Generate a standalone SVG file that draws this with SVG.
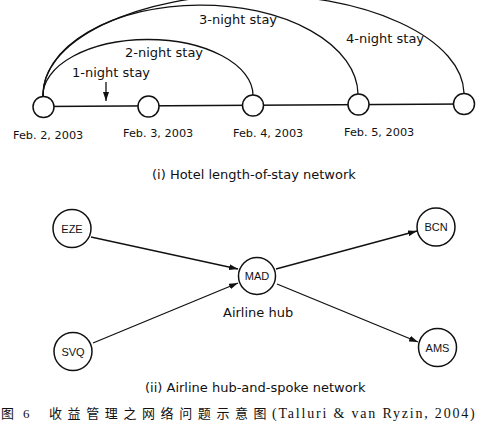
<svg xmlns="http://www.w3.org/2000/svg" width="480" height="422" viewBox="0 0 480 422">
<defs>
<style>
.node{fill:#fff;stroke:#111;stroke-width:1.5}
.edge{fill:none;stroke:#111;stroke-width:1.3}
.lbl{font-family:"DejaVu Sans",Verdana,sans-serif;fill:#111}
.code{font-family:"Liberation Sans",Arial,sans-serif;font-size:11px;fill:#111;text-anchor:middle}
.cap{font-family:"Liberation Serif","Noto Sans CJK SC",serif;fill:#111}
</style>
<marker id="ah" markerWidth="9" markerHeight="6" refX="9" refY="3" orient="auto" markerUnits="userSpaceOnUse">
<path d="M0,0 L9,3 L0,6 z" fill="#111"/>
</marker>
</defs>
<rect width="480" height="422" fill="#fff"/>

<g id="connectors">
<line class="edge" x1="43" y1="106.5" x2="464" y2="104"/>
<path class="edge" d="M43,96 A105,56 0 0 1 253,95"/>
<path class="edge" d="M43,96 A157.5,90 0 0 1 358,94"/>
<path class="edge" d="M43,96 A210.5,100 0 0 1 464,93"/>
<line class="edge" x1="106" y1="82" x2="106" y2="101" marker-end="url(#ah)"/>
<line class="edge" x1="91" y1="237" x2="238" y2="269" marker-end="url(#ah)"/>
<line class="edge" x1="93" y1="343" x2="238" y2="283" marker-end="url(#ah)"/>
<line class="edge" x1="276" y1="269" x2="417" y2="231" marker-end="url(#ah)"/>
<line class="edge" x1="277" y1="284" x2="418" y2="342" marker-end="url(#ah)"/>
</g>

<g id="arc-labels" class="lbl" font-size="13">
<text x="72" y="77">1-night stay</text>
<text x="125" y="57">2-night stay</text>
<text x="199" y="24">3-night stay</text>
<text x="346" y="43">4-night stay</text>
</g>

<g id="feb2"><circle class="node" cx="43.5" cy="107" r="10.5"/><text class="lbl" font-size="11.3" x="13" y="139">Feb. 2, 2003</text></g>
<g id="feb3"><circle class="node" cx="148.5" cy="106.5" r="10.5"/><text class="lbl" font-size="11.3" x="123" y="137">Feb. 3, 2003</text></g>
<g id="feb4"><circle class="node" cx="253" cy="105.5" r="10.5"/><text class="lbl" font-size="11.3" x="233" y="137">Feb. 4, 2003</text></g>
<g id="feb5"><circle class="node" cx="358.5" cy="104.5" r="10.5"/><text class="lbl" font-size="11.3" x="344" y="136">Feb. 5, 2003</text></g>
<g id="feb6"><circle class="node" cx="464" cy="104" r="10.5"/></g>

<text class="lbl" font-size="13" x="152" y="179">(i) Hotel length-of-stay network</text>

<g id="EZE"><circle class="node" cx="72" cy="228.5" r="19"/><text class="code" x="72" y="232.5">EZE</text></g>
<g id="SVQ"><circle class="node" cx="73" cy="351.5" r="19"/><text class="code" x="73" y="355.5">SVQ</text></g>
<g id="MAD"><circle class="node" cx="257" cy="276" r="18.5"/><text class="code" x="257" y="280">MAD</text><text class="lbl" font-size="13" x="223" y="317">Airline hub</text></g>
<g id="BCN"><circle class="node" cx="436" cy="227" r="19"/><text class="code" x="436" y="231">BCN</text></g>
<g id="AMS"><circle class="node" cx="437.5" cy="347.5" r="19"/><text class="code" x="437.5" y="351.5">AMS</text></g>

<text class="lbl" font-size="13" x="145" y="392">(ii) Airline hub-and-spoke network</text>

<text class="cap" y="418"><tspan x="1" font-size="13">图</tspan><tspan x="23" font-size="13">6</tspan><tspan x="49" font-size="13" letter-spacing="5.6">收益管理之网络问题示意图</tspan><tspan x="272" font-size="14" letter-spacing="1.8">(Talluri &amp; van Ryzin, 2004)</tspan></text>
</svg>
